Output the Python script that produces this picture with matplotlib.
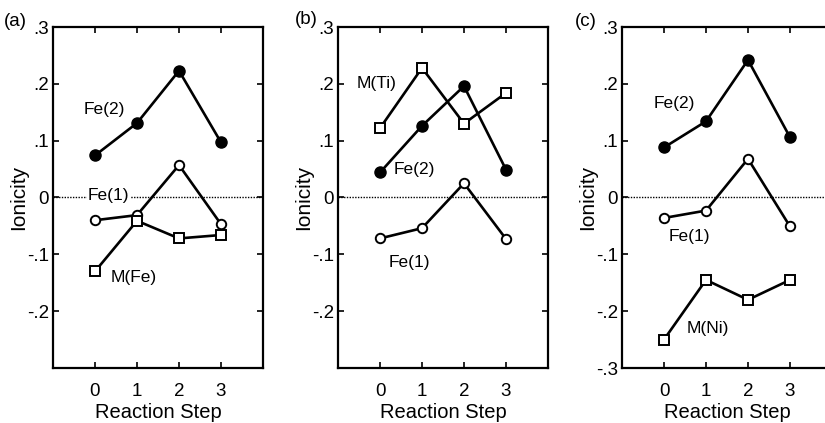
import matplotlib
matplotlib.use("Agg")
import matplotlib.pyplot as plt

plt.rcParams['font.family'] = ['Liberation Sans', 'DejaVu Sans']

steps = [0, 1, 2, 3]

# Panel (a)
a_fe2 = [0.074, 0.131, 0.223, 0.097]
a_fe1 = [-0.040, -0.031, 0.057, -0.047]
a_m = [-0.130, -0.041, -0.072, -0.066]

# Panel (b)
b_fe2 = [0.044, 0.126, 0.196, 0.049]
b_fe1 = [-0.072, -0.054, 0.025, -0.073]
b_m = [0.122, 0.228, 0.130, 0.184]

# Panel (c)
c_fe2 = [0.088, 0.134, 0.242, 0.106]
c_fe1 = [-0.036, -0.023, 0.068, -0.051]
c_m = [-0.250, -0.145, -0.180, -0.145]

yticks = [0.3, 0.2, 0.1, 0.0, -0.1, -0.2, -0.3]
ytick_labels_ab = ['.3', '.2', '.1', '0', '-.1', '-.2', '']
ytick_labels_c = ['.3', '.2', '.1', '0', '-.1', '-.2', '-.3']

W, H = 825, 423
fig = plt.figure(figsize=(W / 100, H / 100), dpi=100)


def make_axes(left_px, right_px, top_px=27, bottom_px=368):
    return fig.add_axes([left_px / W, 1 - bottom_px / H,
                         (right_px - left_px) / W, (bottom_px - top_px) / H])


def style(ax, ylabels):
    ax.set_xlim(-1, 4)
    ax.set_ylim(-0.3, 0.3)
    ax.set_xticks(steps)
    ax.set_xticklabels([str(s) for s in steps])
    ax.set_yticks(yticks)
    ax.set_yticklabels(ylabels)
    ax.tick_params(direction='in', length=4, width=1.2, top=True, right=True,
                   labelsize=13.5)
    ax.tick_params(axis='x', pad=11)
    ax.tick_params(axis='y', pad=3)
    for sp in ax.spines.values():
        sp.set_linewidth(1.6)
    ax.axhline(0, color='black', linestyle=(0, (1, 1)), linewidth=1.0, zorder=1)
    ax.set_xlabel('Reaction Step', fontsize=14.5, labelpad=2)
    ax.set_ylabel('Ionicity', fontsize=15, labelpad=-1)


def fe2(ax, y):
    ax.plot(steps, y, color='black', lw=1.9, marker='o', ms=8,
            mfc='black', mec='black', zorder=3)


def fe1(ax, y):
    ax.plot(steps, y, color='black', lw=1.9, marker='o', ms=6.8,
            mfc='white', mec='black', mew=1.4, zorder=3)


def msq(ax, y):
    ax.plot(steps, y, color='black', lw=1.9, marker='s', ms=6.8,
            mfc='white', mec='black', mew=1.4, zorder=3)


lab_kw = dict(fontsize=12.5, va='center', ha='left', zorder=4)

# (a)
ax1 = make_axes(53, 263)
fe2(ax1, a_fe2)
fe1(ax1, a_fe1)
msq(ax1, a_m)
style(ax1, ytick_labels_ab)
ax1.text(-0.27, 0.155, 'Fe(2)', **lab_kw)
ax1.text(-0.18, 0.003, 'Fe(1)',
         bbox=dict(facecolor='white', edgecolor='none', pad=0.5), **lab_kw)
ax1.text(0.37, -0.14, 'M(Fe)', **lab_kw)

# (b)
ax2 = make_axes(338, 548)
msq(ax2, b_m)
fe2(ax2, b_fe2)
fe1(ax2, b_fe1)
style(ax2, ytick_labels_ab)
ax2.text(-0.55, 0.20, 'M(Ti)', **lab_kw)
ax2.text(0.32, 0.049, 'Fe(2)', **lab_kw)
ax2.text(0.20, -0.114, 'Fe(1)', **lab_kw)

# (c)
ax3 = make_axes(622, 832)
fe2(ax3, c_fe2)
fe1(ax3, c_fe1)
msq(ax3, c_m)
style(ax3, ytick_labels_c)
ax3.text(-0.24, 0.165, 'Fe(2)', **lab_kw)
ax3.text(0.12, -0.069, 'Fe(1)', **lab_kw)
ax3.text(0.53, -0.23, 'M(Ni)', **lab_kw)

fig.text(4 / W, 1 - 21 / H, '(a)', fontsize=13.5, va='center', ha='left')
fig.text(295 / W, 1 - 20 / H, '(b)', fontsize=13.5, va='center', ha='left')
fig.text(575 / W, 1 - 21 / H, '(c)', fontsize=13.5, va='center', ha='left')

fig.savefig('out.png', dpi=100)
